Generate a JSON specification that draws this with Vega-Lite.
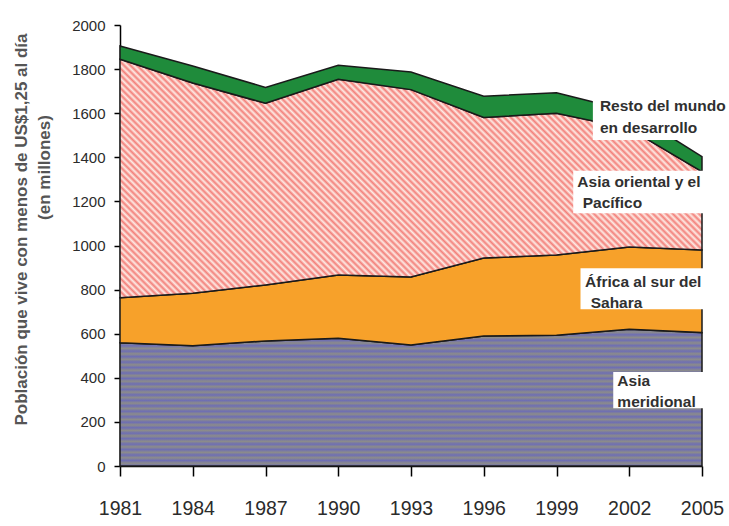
{
 "$schema": "https://vega.github.io/schema/vega-lite/v6.json",
 "width": 582,
 "height": 441,
 "autosize": {"type": "none"},
 "padding": {"left": 120, "top": 25, "right": 27, "bottom": 60},
 "background": "white",
 "config": {"view": {"stroke": null}},
 "datasets": {
  "poverty": [
   {"year": 1981, "region": "Asia meridional", "order": 1, "value": 559},
   {"year": 1984, "region": "Asia meridional", "order": 1, "value": 545},
   {"year": 1987, "region": "Asia meridional", "order": 1, "value": 567},
   {"year": 1990, "region": "Asia meridional", "order": 1, "value": 579},
   {"year": 1993, "region": "Asia meridional", "order": 1, "value": 549},
   {"year": 1996, "region": "Asia meridional", "order": 1, "value": 590},
   {"year": 1999, "region": "Asia meridional", "order": 1, "value": 593},
   {"year": 2002, "region": "Asia meridional", "order": 1, "value": 620},
   {"year": 2005, "region": "Asia meridional", "order": 1, "value": 605},
   {"year": 1981, "region": "África al sur del Sahara", "order": 2, "value": 204},
   {"year": 1984, "region": "África al sur del Sahara", "order": 2, "value": 238},
   {"year": 1987, "region": "África al sur del Sahara", "order": 2, "value": 254},
   {"year": 1990, "region": "África al sur del Sahara", "order": 2, "value": 287},
   {"year": 1993, "region": "África al sur del Sahara", "order": 2, "value": 308},
   {"year": 1996, "region": "África al sur del Sahara", "order": 2, "value": 353},
   {"year": 1999, "region": "África al sur del Sahara", "order": 2, "value": 364},
   {"year": 2002, "region": "África al sur del Sahara", "order": 2, "value": 373},
   {"year": 2005, "region": "África al sur del Sahara", "order": 2, "value": 375},
   {"year": 1981, "region": "Asia oriental y el Pacífico", "order": 3, "value": 1082},
   {"year": 1984, "region": "Asia oriental y el Pacífico", "order": 3, "value": 954},
   {"year": 1987, "region": "Asia oriental y el Pacífico", "order": 3, "value": 824},
   {"year": 1990, "region": "Asia oriental y el Pacífico", "order": 3, "value": 888},
   {"year": 1993, "region": "Asia oriental y el Pacífico", "order": 3, "value": 850},
   {"year": 1996, "region": "Asia oriental y el Pacífico", "order": 3, "value": 638},
   {"year": 1999, "region": "Asia oriental y el Pacífico", "order": 3, "value": 643},
   {"year": 2002, "region": "Asia oriental y el Pacífico", "order": 3, "value": 537},
   {"year": 2005, "region": "Asia oriental y el Pacífico", "order": 3, "value": 355},
   {"year": 1981, "region": "Resto del mundo en desarrollo", "order": 4, "value": 60},
   {"year": 1984, "region": "Resto del mundo en desarrollo", "order": 4, "value": 77},
   {"year": 1987, "region": "Resto del mundo en desarrollo", "order": 4, "value": 72},
   {"year": 1990, "region": "Resto del mundo en desarrollo", "order": 4, "value": 63},
   {"year": 1993, "region": "Resto del mundo en desarrollo", "order": 4, "value": 80},
   {"year": 1996, "region": "Resto del mundo en desarrollo", "order": 4, "value": 96},
   {"year": 1999, "region": "Resto del mundo en desarrollo", "order": 4, "value": 93},
   {"year": 2002, "region": "Resto del mundo en desarrollo", "order": 4, "value": 80},
   {"year": 2005, "region": "Resto del mundo en desarrollo", "order": 4, "value": 68}
  ],
  "boxes": [
   {"x0": 2000.5, "x1": 2006.2, "y0": 1700, "y1": 1478},
   {"x0": 1999.69, "x1": 2005.25, "y0": 1339, "y1": 1146},
   {"x0": 1999.99, "x1": 2005.19, "y0": 897, "y1": 711},
   {"x0": 2001.34, "x1": 2005.19, "y0": 426, "y1": 262}
  ],
  "labels": [
   {"x": 2000.79, "y": 1611, "text": "Resto del mundo"},
   {"x": 2000.79, "y": 1509, "text": "en desarrollo"},
   {"x": 1999.86, "y": 1264, "text": "Asia oriental y el"},
   {"x": 2000.08, "y": 1169, "text": "Pacífico"},
   {"x": 2000.18, "y": 813, "text": "África al sur del"},
   {"x": 2000.41, "y": 718, "text": "Sahara"},
   {"x": 2001.51, "y": 363, "text": "Asia"},
   {"x": 2001.51, "y": 269, "text": "meridional"}
  ]
 },
 "data": {"name": "poverty"},
 "layer": [
  {
   "transform": [
    {"stack": "value", "groupby": ["year"], "sort": [{"field": "order", "order": "ascending"}], "as": ["v0", "v1"]},
    {"filter": {"field": "region", "equal": "Asia meridional"}}
   ],
   "mark": {"type": "area", "stroke": "#1a1a1a", "strokeWidth": 1.5,
    "fill": {"gradient": "linear", "x1": 0, "y1": 0, "x2": 0, "y2": 1, "stops": [
     {"offset": 0, "color": "#6e6eb4"}, {"offset": 0.02, "color": "#8c8c8a"}, {"offset": 0.04, "color": "#6e6eb4"}, {"offset": 0.06, "color": "#8c8c8a"}, {"offset": 0.08, "color": "#6e6eb4"},
     {"offset": 0.1, "color": "#8c8c8a"}, {"offset": 0.12, "color": "#6e6eb4"}, {"offset": 0.14, "color": "#8c8c8a"}, {"offset": 0.16, "color": "#6e6eb4"}, {"offset": 0.18, "color": "#8c8c8a"},
     {"offset": 0.2, "color": "#6e6eb4"}, {"offset": 0.22, "color": "#8c8c8a"}, {"offset": 0.24, "color": "#6e6eb4"}, {"offset": 0.26, "color": "#8c8c8a"}, {"offset": 0.28, "color": "#6e6eb4"},
     {"offset": 0.3, "color": "#8c8c8a"}, {"offset": 0.32, "color": "#6e6eb4"}, {"offset": 0.34, "color": "#8c8c8a"}, {"offset": 0.36, "color": "#6e6eb4"}, {"offset": 0.38, "color": "#8c8c8a"},
     {"offset": 0.4, "color": "#6e6eb4"}, {"offset": 0.42, "color": "#8c8c8a"}, {"offset": 0.44, "color": "#6e6eb4"}, {"offset": 0.46, "color": "#8c8c8a"}, {"offset": 0.48, "color": "#6e6eb4"},
     {"offset": 0.5, "color": "#8c8c8a"}, {"offset": 0.52, "color": "#6e6eb4"}, {"offset": 0.54, "color": "#8c8c8a"}, {"offset": 0.56, "color": "#6e6eb4"}, {"offset": 0.58, "color": "#8c8c8a"},
     {"offset": 0.6, "color": "#6e6eb4"}, {"offset": 0.62, "color": "#8c8c8a"}, {"offset": 0.64, "color": "#6e6eb4"}, {"offset": 0.66, "color": "#8c8c8a"}, {"offset": 0.68, "color": "#6e6eb4"},
     {"offset": 0.7, "color": "#8c8c8a"}, {"offset": 0.72, "color": "#6e6eb4"}, {"offset": 0.74, "color": "#8c8c8a"}, {"offset": 0.76, "color": "#6e6eb4"}, {"offset": 0.78, "color": "#8c8c8a"},
     {"offset": 0.8, "color": "#6e6eb4"}, {"offset": 0.82, "color": "#8c8c8a"}, {"offset": 0.84, "color": "#6e6eb4"}, {"offset": 0.86, "color": "#8c8c8a"}, {"offset": 0.88, "color": "#6e6eb4"},
     {"offset": 0.9, "color": "#8c8c8a"}, {"offset": 0.92, "color": "#6e6eb4"}, {"offset": 0.94, "color": "#8c8c8a"}, {"offset": 0.96, "color": "#6e6eb4"}, {"offset": 0.98, "color": "#8c8c8a"},
     {"offset": 1, "color": "#6e6eb4"}
    ]}},
   "encoding": {
    "x": {"field": "year", "type": "quantitative", "scale": {"domain": [1981, 2005], "nice": false, "zero": false},
     "axis": {"values": [1981, 1984, 1987, 1990, 1993, 1996, 1999, 2002, 2005], "format": "d", "title": null, "grid": false,
      "labelFont": "Liberation Sans, Arial, sans-serif", "labelFontSize": 19.5, "labelColor": "#2b2b2b", "labelPadding": 23, "labelFlush": false,
      "tickSize": 10, "tickWidth": 1.5, "tickColor": "#000000", "domainColor": "#000000", "domainWidth": 1.5}},
    "y": {"field": "v1", "type": "quantitative", "scale": {"domain": [0, 2000], "nice": false},
     "axis": {"values": [0, 200, 400, 600, 800, 1000, 1200, 1400, 1600, 1800, 2000], "format": "d", "grid": false,
      "title": "Población que vive con menos de US$1,25 al día", "titleFont": "Liberation Sans, Arial, sans-serif", "titleFontSize": 17, "titleFontWeight": "bold", "titleColor": "#555555",
      "titleAngle": -90, "titleX": -94, "titleY": 204, "titleAlign": "center", "titleBaseline": "alphabetic",
      "labelFont": "Liberation Sans, Arial, sans-serif", "labelFontSize": 15, "labelColor": "#2b2b2b", "labelPadding": 9,
      "tickSize": 6, "tickWidth": 1.5, "tickColor": "#000000", "domainColor": "#000000", "domainWidth": 1.5}},
    "y2": {"field": "v0"}
   }
  },
  {
   "transform": [
    {"stack": "value", "groupby": ["year"], "sort": [{"field": "order", "order": "ascending"}], "as": ["v0", "v1"]},
    {"filter": {"field": "region", "equal": "África al sur del Sahara"}}
   ],
   "mark": {"type": "area", "fill": "#f7a12a", "stroke": "#1a1a1a", "strokeWidth": 1.5},
   "encoding": {
    "x": {"field": "year", "type": "quantitative", "scale": {"domain": [1981, 2005], "nice": false, "zero": false}, "axis": null},
    "y": {"field": "v1", "type": "quantitative", "scale": {"domain": [0, 2000], "nice": false}, "axis": null},
    "y2": {"field": "v0"}
   }
  },
  {
   "transform": [
    {"stack": "value", "groupby": ["year"], "sort": [{"field": "order", "order": "ascending"}], "as": ["v0", "v1"]},
    {"filter": {"field": "region", "equal": "Asia oriental y el Pacífico"}}
   ],
   "mark": {"type": "area", "stroke": "#1a1a1a", "strokeWidth": 1.5,
    "fill": {"gradient": "linear", "x1": 0, "y1": 1, "x2": 1.2071, "y2": 0.5051, "stops": [
     {"offset": 0, "color": "#f3807a"}, {"offset": 0.004, "color": "#fdebe5"}, {"offset": 0.008, "color": "#f3807a"}, {"offset": 0.012, "color": "#fdebe5"}, {"offset": 0.016, "color": "#f3807a"},
     {"offset": 0.02, "color": "#fdebe5"}, {"offset": 0.024, "color": "#f3807a"}, {"offset": 0.028, "color": "#fdebe5"}, {"offset": 0.032, "color": "#f3807a"}, {"offset": 0.036, "color": "#fdebe5"},
     {"offset": 0.04, "color": "#f3807a"}, {"offset": 0.044, "color": "#fdebe5"}, {"offset": 0.048, "color": "#f3807a"}, {"offset": 0.052, "color": "#fdebe5"}, {"offset": 0.056, "color": "#f3807a"},
     {"offset": 0.06, "color": "#fdebe5"}, {"offset": 0.064, "color": "#f3807a"}, {"offset": 0.068, "color": "#fdebe5"}, {"offset": 0.072, "color": "#f3807a"}, {"offset": 0.076, "color": "#fdebe5"},
     {"offset": 0.08, "color": "#f3807a"}, {"offset": 0.084, "color": "#fdebe5"}, {"offset": 0.088, "color": "#f3807a"}, {"offset": 0.092, "color": "#fdebe5"}, {"offset": 0.096, "color": "#f3807a"},
     {"offset": 0.1, "color": "#fdebe5"}, {"offset": 0.104, "color": "#f3807a"}, {"offset": 0.108, "color": "#fdebe5"}, {"offset": 0.112, "color": "#f3807a"}, {"offset": 0.116, "color": "#fdebe5"},
     {"offset": 0.12, "color": "#f3807a"}, {"offset": 0.124, "color": "#fdebe5"}, {"offset": 0.128, "color": "#f3807a"}, {"offset": 0.132, "color": "#fdebe5"}, {"offset": 0.136, "color": "#f3807a"},
     {"offset": 0.14, "color": "#fdebe5"}, {"offset": 0.144, "color": "#f3807a"}, {"offset": 0.148, "color": "#fdebe5"}, {"offset": 0.152, "color": "#f3807a"}, {"offset": 0.156, "color": "#fdebe5"},
     {"offset": 0.16, "color": "#f3807a"}, {"offset": 0.164, "color": "#fdebe5"}, {"offset": 0.168, "color": "#f3807a"}, {"offset": 0.172, "color": "#fdebe5"}, {"offset": 0.176, "color": "#f3807a"},
     {"offset": 0.18, "color": "#fdebe5"}, {"offset": 0.184, "color": "#f3807a"}, {"offset": 0.188, "color": "#fdebe5"}, {"offset": 0.192, "color": "#f3807a"}, {"offset": 0.196, "color": "#fdebe5"},
     {"offset": 0.2, "color": "#f3807a"}, {"offset": 0.204, "color": "#fdebe5"}, {"offset": 0.208, "color": "#f3807a"}, {"offset": 0.212, "color": "#fdebe5"}, {"offset": 0.216, "color": "#f3807a"},
     {"offset": 0.22, "color": "#fdebe5"}, {"offset": 0.224, "color": "#f3807a"}, {"offset": 0.228, "color": "#fdebe5"}, {"offset": 0.232, "color": "#f3807a"}, {"offset": 0.236, "color": "#fdebe5"},
     {"offset": 0.24, "color": "#f3807a"}, {"offset": 0.244, "color": "#fdebe5"}, {"offset": 0.248, "color": "#f3807a"}, {"offset": 0.252, "color": "#fdebe5"}, {"offset": 0.256, "color": "#f3807a"},
     {"offset": 0.26, "color": "#fdebe5"}, {"offset": 0.264, "color": "#f3807a"}, {"offset": 0.268, "color": "#fdebe5"}, {"offset": 0.272, "color": "#f3807a"}, {"offset": 0.276, "color": "#fdebe5"},
     {"offset": 0.28, "color": "#f3807a"}, {"offset": 0.284, "color": "#fdebe5"}, {"offset": 0.288, "color": "#f3807a"}, {"offset": 0.292, "color": "#fdebe5"}, {"offset": 0.296, "color": "#f3807a"},
     {"offset": 0.3, "color": "#fdebe5"}, {"offset": 0.304, "color": "#f3807a"}, {"offset": 0.308, "color": "#fdebe5"}, {"offset": 0.312, "color": "#f3807a"}, {"offset": 0.316, "color": "#fdebe5"},
     {"offset": 0.32, "color": "#f3807a"}, {"offset": 0.324, "color": "#fdebe5"}, {"offset": 0.328, "color": "#f3807a"}, {"offset": 0.332, "color": "#fdebe5"}, {"offset": 0.336, "color": "#f3807a"},
     {"offset": 0.34, "color": "#fdebe5"}, {"offset": 0.344, "color": "#f3807a"}, {"offset": 0.348, "color": "#fdebe5"}, {"offset": 0.352, "color": "#f3807a"}, {"offset": 0.356, "color": "#fdebe5"},
     {"offset": 0.36, "color": "#f3807a"}, {"offset": 0.364, "color": "#fdebe5"}, {"offset": 0.368, "color": "#f3807a"}, {"offset": 0.372, "color": "#fdebe5"}, {"offset": 0.376, "color": "#f3807a"},
     {"offset": 0.38, "color": "#fdebe5"}, {"offset": 0.384, "color": "#f3807a"}, {"offset": 0.388, "color": "#fdebe5"}, {"offset": 0.392, "color": "#f3807a"}, {"offset": 0.396, "color": "#fdebe5"},
     {"offset": 0.4, "color": "#f3807a"}, {"offset": 0.404, "color": "#fdebe5"}, {"offset": 0.408, "color": "#f3807a"}, {"offset": 0.412, "color": "#fdebe5"}, {"offset": 0.416, "color": "#f3807a"},
     {"offset": 0.42, "color": "#fdebe5"}, {"offset": 0.424, "color": "#f3807a"}, {"offset": 0.428, "color": "#fdebe5"}, {"offset": 0.432, "color": "#f3807a"}, {"offset": 0.436, "color": "#fdebe5"},
     {"offset": 0.44, "color": "#f3807a"}, {"offset": 0.444, "color": "#fdebe5"}, {"offset": 0.448, "color": "#f3807a"}, {"offset": 0.452, "color": "#fdebe5"}, {"offset": 0.456, "color": "#f3807a"},
     {"offset": 0.46, "color": "#fdebe5"}, {"offset": 0.464, "color": "#f3807a"}, {"offset": 0.468, "color": "#fdebe5"}, {"offset": 0.472, "color": "#f3807a"}, {"offset": 0.476, "color": "#fdebe5"},
     {"offset": 0.48, "color": "#f3807a"}, {"offset": 0.484, "color": "#fdebe5"}, {"offset": 0.488, "color": "#f3807a"}, {"offset": 0.492, "color": "#fdebe5"}, {"offset": 0.496, "color": "#f3807a"},
     {"offset": 0.5, "color": "#fdebe5"}, {"offset": 0.504, "color": "#f3807a"}, {"offset": 0.508, "color": "#fdebe5"}, {"offset": 0.512, "color": "#f3807a"}, {"offset": 0.516, "color": "#fdebe5"},
     {"offset": 0.52, "color": "#f3807a"}, {"offset": 0.524, "color": "#fdebe5"}, {"offset": 0.528, "color": "#f3807a"}, {"offset": 0.532, "color": "#fdebe5"}, {"offset": 0.536, "color": "#f3807a"},
     {"offset": 0.54, "color": "#fdebe5"}, {"offset": 0.544, "color": "#f3807a"}, {"offset": 0.548, "color": "#fdebe5"}, {"offset": 0.552, "color": "#f3807a"}, {"offset": 0.556, "color": "#fdebe5"},
     {"offset": 0.56, "color": "#f3807a"}, {"offset": 0.564, "color": "#fdebe5"}, {"offset": 0.568, "color": "#f3807a"}, {"offset": 0.572, "color": "#fdebe5"}, {"offset": 0.576, "color": "#f3807a"},
     {"offset": 0.58, "color": "#fdebe5"}, {"offset": 0.584, "color": "#f3807a"}, {"offset": 0.588, "color": "#fdebe5"}, {"offset": 0.592, "color": "#f3807a"}, {"offset": 0.596, "color": "#fdebe5"},
     {"offset": 0.6, "color": "#f3807a"}, {"offset": 0.604, "color": "#fdebe5"}, {"offset": 0.608, "color": "#f3807a"}, {"offset": 0.612, "color": "#fdebe5"}, {"offset": 0.616, "color": "#f3807a"},
     {"offset": 0.62, "color": "#fdebe5"}, {"offset": 0.624, "color": "#f3807a"}, {"offset": 0.628, "color": "#fdebe5"}, {"offset": 0.632, "color": "#f3807a"}, {"offset": 0.636, "color": "#fdebe5"},
     {"offset": 0.64, "color": "#f3807a"}, {"offset": 0.644, "color": "#fdebe5"}, {"offset": 0.648, "color": "#f3807a"}, {"offset": 0.652, "color": "#fdebe5"}, {"offset": 0.656, "color": "#f3807a"},
     {"offset": 0.66, "color": "#fdebe5"}, {"offset": 0.664, "color": "#f3807a"}, {"offset": 0.668, "color": "#fdebe5"}, {"offset": 0.672, "color": "#f3807a"}, {"offset": 0.676, "color": "#fdebe5"},
     {"offset": 0.68, "color": "#f3807a"}, {"offset": 0.684, "color": "#fdebe5"}, {"offset": 0.688, "color": "#f3807a"}, {"offset": 0.692, "color": "#fdebe5"}, {"offset": 0.696, "color": "#f3807a"},
     {"offset": 0.7, "color": "#fdebe5"}, {"offset": 0.704, "color": "#f3807a"}, {"offset": 0.708, "color": "#fdebe5"}, {"offset": 0.712, "color": "#f3807a"}, {"offset": 0.716, "color": "#fdebe5"},
     {"offset": 0.72, "color": "#f3807a"}, {"offset": 0.724, "color": "#fdebe5"}, {"offset": 0.728, "color": "#f3807a"}, {"offset": 0.732, "color": "#fdebe5"}, {"offset": 0.736, "color": "#f3807a"},
     {"offset": 0.74, "color": "#fdebe5"}, {"offset": 0.744, "color": "#f3807a"}, {"offset": 0.748, "color": "#fdebe5"}, {"offset": 0.752, "color": "#f3807a"}, {"offset": 0.756, "color": "#fdebe5"},
     {"offset": 0.76, "color": "#f3807a"}, {"offset": 0.764, "color": "#fdebe5"}, {"offset": 0.768, "color": "#f3807a"}, {"offset": 0.772, "color": "#fdebe5"}, {"offset": 0.776, "color": "#f3807a"},
     {"offset": 0.78, "color": "#fdebe5"}, {"offset": 0.784, "color": "#f3807a"}, {"offset": 0.788, "color": "#fdebe5"}, {"offset": 0.792, "color": "#f3807a"}, {"offset": 0.796, "color": "#fdebe5"},
     {"offset": 0.8, "color": "#f3807a"}, {"offset": 0.804, "color": "#fdebe5"}, {"offset": 0.808, "color": "#f3807a"}, {"offset": 0.812, "color": "#fdebe5"}, {"offset": 0.816, "color": "#f3807a"},
     {"offset": 0.82, "color": "#fdebe5"}, {"offset": 0.824, "color": "#f3807a"}, {"offset": 0.828, "color": "#fdebe5"}, {"offset": 0.832, "color": "#f3807a"}, {"offset": 0.836, "color": "#fdebe5"},
     {"offset": 0.84, "color": "#f3807a"}, {"offset": 0.844, "color": "#fdebe5"}, {"offset": 0.848, "color": "#f3807a"}, {"offset": 0.852, "color": "#fdebe5"}, {"offset": 0.856, "color": "#f3807a"},
     {"offset": 0.86, "color": "#fdebe5"}, {"offset": 0.864, "color": "#f3807a"}, {"offset": 0.868, "color": "#fdebe5"}, {"offset": 0.872, "color": "#f3807a"}, {"offset": 0.876, "color": "#fdebe5"},
     {"offset": 0.88, "color": "#f3807a"}, {"offset": 0.884, "color": "#fdebe5"}, {"offset": 0.888, "color": "#f3807a"}, {"offset": 0.892, "color": "#fdebe5"}, {"offset": 0.896, "color": "#f3807a"},
     {"offset": 0.9, "color": "#fdebe5"}, {"offset": 0.904, "color": "#f3807a"}, {"offset": 0.908, "color": "#fdebe5"}, {"offset": 0.912, "color": "#f3807a"}, {"offset": 0.916, "color": "#fdebe5"},
     {"offset": 0.92, "color": "#f3807a"}, {"offset": 0.924, "color": "#fdebe5"}, {"offset": 0.928, "color": "#f3807a"}, {"offset": 0.932, "color": "#fdebe5"}, {"offset": 0.936, "color": "#f3807a"},
     {"offset": 0.94, "color": "#fdebe5"}, {"offset": 0.944, "color": "#f3807a"}, {"offset": 0.948, "color": "#fdebe5"}, {"offset": 0.952, "color": "#f3807a"}, {"offset": 0.956, "color": "#fdebe5"},
     {"offset": 0.96, "color": "#f3807a"}, {"offset": 0.964, "color": "#fdebe5"}, {"offset": 0.968, "color": "#f3807a"}, {"offset": 0.972, "color": "#fdebe5"}, {"offset": 0.976, "color": "#f3807a"},
     {"offset": 0.98, "color": "#fdebe5"}, {"offset": 0.984, "color": "#f3807a"}, {"offset": 0.988, "color": "#fdebe5"}, {"offset": 0.992, "color": "#f3807a"}, {"offset": 0.996, "color": "#fdebe5"},
     {"offset": 1, "color": "#f3807a"}
    ]}},
   "encoding": {
    "x": {"field": "year", "type": "quantitative", "scale": {"domain": [1981, 2005], "nice": false, "zero": false}, "axis": null},
    "y": {"field": "v1", "type": "quantitative", "scale": {"domain": [0, 2000], "nice": false}, "axis": null},
    "y2": {"field": "v0"}
   }
  },
  {
   "transform": [
    {"stack": "value", "groupby": ["year"], "sort": [{"field": "order", "order": "ascending"}], "as": ["v0", "v1"]},
    {"filter": {"field": "region", "equal": "Resto del mundo en desarrollo"}}
   ],
   "mark": {"type": "area", "fill": "#1f8b3b", "stroke": "#1a1a1a", "strokeWidth": 1.5},
   "encoding": {
    "x": {"field": "year", "type": "quantitative", "scale": {"domain": [1981, 2005], "nice": false, "zero": false}, "axis": null},
    "y": {"field": "v1", "type": "quantitative", "scale": {"domain": [0, 2000], "nice": false}, "axis": null},
    "y2": {"field": "v0"}
   }
  },
  {
   "data": {"name": "boxes"},
   "mark": {"type": "rect", "fill": "#ffffff", "strokeWidth": 0},
   "encoding": {
    "x": {"field": "x0", "type": "quantitative", "scale": {"domain": [1981, 2005], "nice": false, "zero": false}, "axis": null},
    "x2": {"field": "x1"},
    "y": {"field": "y0", "type": "quantitative", "scale": {"domain": [0, 2000], "nice": false}, "axis": null},
    "y2": {"field": "y1"}
   }
  },
  {
   "data": {"name": "labels"},
   "mark": {"type": "text", "align": "left", "baseline": "alphabetic", "font": "Liberation Sans, Arial, sans-serif", "fontSize": 15.5, "fontWeight": "bold", "fill": "#303030"},
   "encoding": {
    "x": {"field": "x", "type": "quantitative", "scale": {"domain": [1981, 2005], "nice": false, "zero": false}, "axis": null},
    "y": {"field": "y", "type": "quantitative", "scale": {"domain": [0, 2000], "nice": false},
     "axis": {"orient": "left", "title": "(en millones)", "titleFont": "Liberation Sans, Arial, sans-serif", "titleFontSize": 17, "titleFontWeight": "bold", "titleColor": "#555555",
      "titleAngle": -90, "titleX": -71, "titleY": 142, "titleAlign": "center", "titleBaseline": "alphabetic",
      "labels": false, "ticks": false, "domain": false, "grid": false}},
    "text": {"field": "text"}
   }
  }
 ],
 "resolve": {"axis": {"y": "independent", "x": "independent"}}
}
